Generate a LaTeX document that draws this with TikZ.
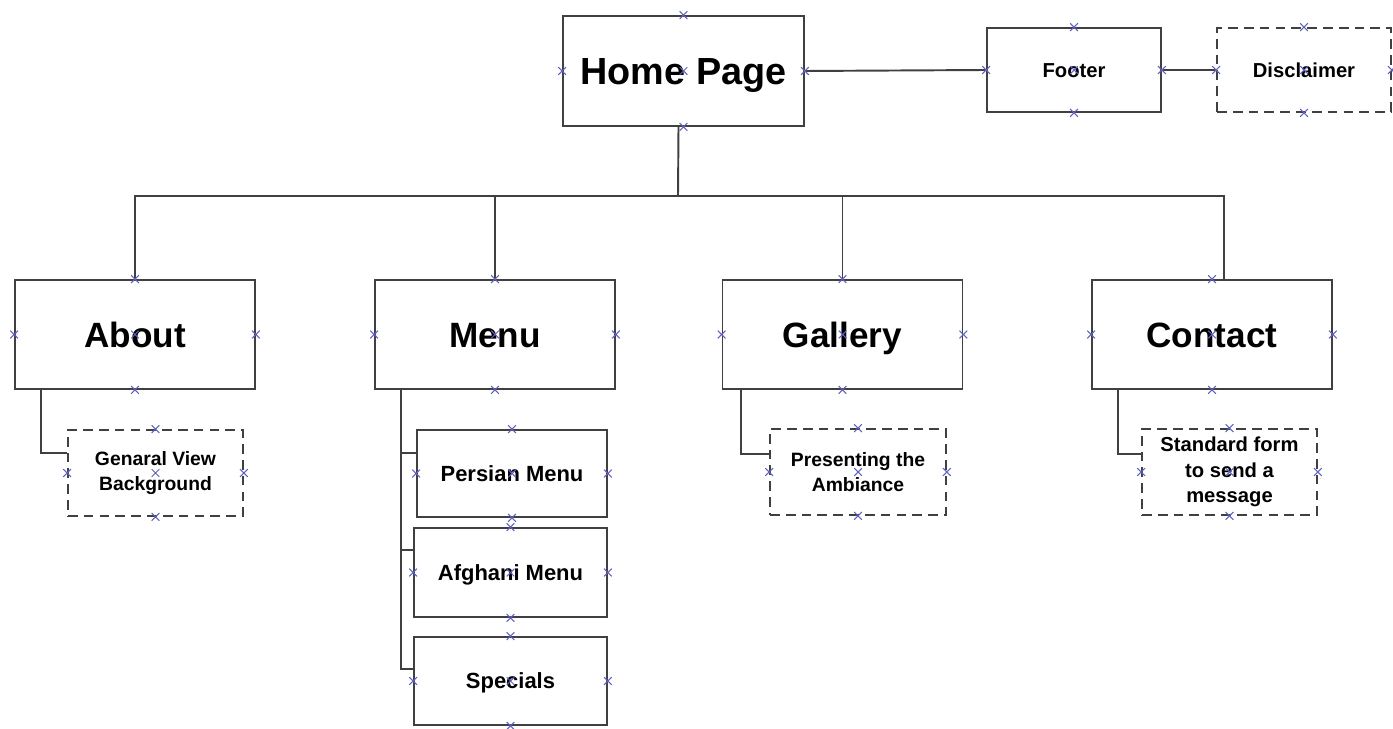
\documentclass[tikz,border=0pt]{standalone}
\usepackage{fontspec}
\setmainfont{Liberation Sans}
\usepackage{tikz}
\definecolor{edgegray}{RGB}{64,64,64}
\definecolor{cpblue}{RGB}{96,96,190}

\tikzset{
  page/.style={draw=edgegray, line width=1.1pt, inner sep=0pt, align=center,
    font=\bfseries\fontsize{20}{24}\selectfont, text height=14.3pt, text depth=0pt,
    minimum width=4.8cm, minimum height=2.18cm},
  subpage/.style={page, font=\bfseries\fontsize{12.5}{15}\selectfont, text height=9pt,
    minimum width=3.86cm, minimum height=1.76cm},
  note/.style={subpage, dash pattern=on 5.5pt off 3.5pt, text height=, text depth=,
    font=\bfseries\fontsize{11}{14.2}\selectfont,
    minimum width=3.5cm, minimum height=1.72cm},
  link/.style={draw=edgegray, line width=1.1pt},
  cp/.pic={\draw[cpblue, line width=0.6pt] (-2.2pt,-2.2pt) -- (2.2pt,2.2pt) (-2.2pt,2.2pt) -- (2.2pt,-2.2pt);}
}

\begin{document}
\begin{tikzpicture}[x=0.02cm, y=-0.02cm]
\useasboundingbox (0,0) rectangle (1393,729);

% top row
\node[page, minimum width=4.82cm, minimum height=2.2cm,
  font=\bfseries\fontsize{21.5}{25}\selectfont, text height=15.4pt] (home) at (683.5,71) {Home Page};
\node[subpage, font=\bfseries\fontsize{11.5}{14}\selectfont, text height=8.2pt,
  minimum width=3.48cm, minimum height=1.68cm] (footer) at (1074,70) {Footer};
\node[subpage, dash pattern=on 5.5pt off 3.5pt, font=\bfseries\fontsize{11.5}{14}\selectfont,
  text height=8.2pt, minimum width=3.48cm, minimum height=1.68cm] (disclaimer) at (1304,70) {Disclaimer};

% main sections
\node[page] (about) at (135,334.5) {About};
\node[page] (menu) at (495,334.5) {Menu};
\node[page] (gallery) at (842.5,334.5) {Gallery};
\node[page] (contact) at (1212,334.5) {Contact};

% sub pages
\node[note] (general) at (155.5,473) {Genaral View\\Background};
\node[subpage, minimum width=3.8cm, minimum height=1.74cm] (persian) at (512,473.5) {Persian Menu};
\node[subpage, minimum height=1.78cm] (afghani) at (510.5,572.5) {Afghani Menu};
\node[subpage] (specials) at (510.5,681) {Specials};
\node[note, minimum width=3.52cm] (ambiance) at (858,472) {Presenting the\\Ambiance};
\node[note, font=\bfseries\fontsize{11.5}{14.6}\selectfont] (standard) at (1229.5,472) {Standard form\\to send a\\message};

% connectors
\coordinate (bus) at (678,196);
\draw[link] (home.east) -- (footer.west);
\draw[link] (footer.east) -- (disclaimer.west);
\draw[link] ([xshift=-0.1cm]home.south) -- (bus);
\draw[link] (about.north) |- ([xshift=0.24cm]contact.north |- bus) -- ([xshift=0.24cm]contact.north);
\draw[link] (menu.north) -- (menu.north |- bus);
\draw[link] (gallery.north) -- (gallery.north |- bus);

\draw[link] ([xshift=0.54cm]about.south west) |- ([yshift=0.4cm]general.west);
\draw[link] ([xshift=0.38cm]gallery.south west) |- ([yshift=0.36cm]ambiance.west);
\draw[link] ([xshift=0.54cm]contact.south west) |- ([yshift=0.36cm]standard.west);
\coordinate (menutrunk) at ([xshift=0.54cm]menu.south west);
\foreach \s/\d in {persian/0.41cm, afghani/0.45cm, specials/0.24cm}
  \draw[link] (menutrunk) |- ([yshift=\d]\s.west);

% connection points
\foreach \n in {home,footer,disclaimer,about,menu,gallery,contact,general,persian,afghani,specials,ambiance,standard}
  \foreach \a in {north,south,east,west,center}
    \pic at (\n.\a) {cp};
\end{tikzpicture}
\end{document}
